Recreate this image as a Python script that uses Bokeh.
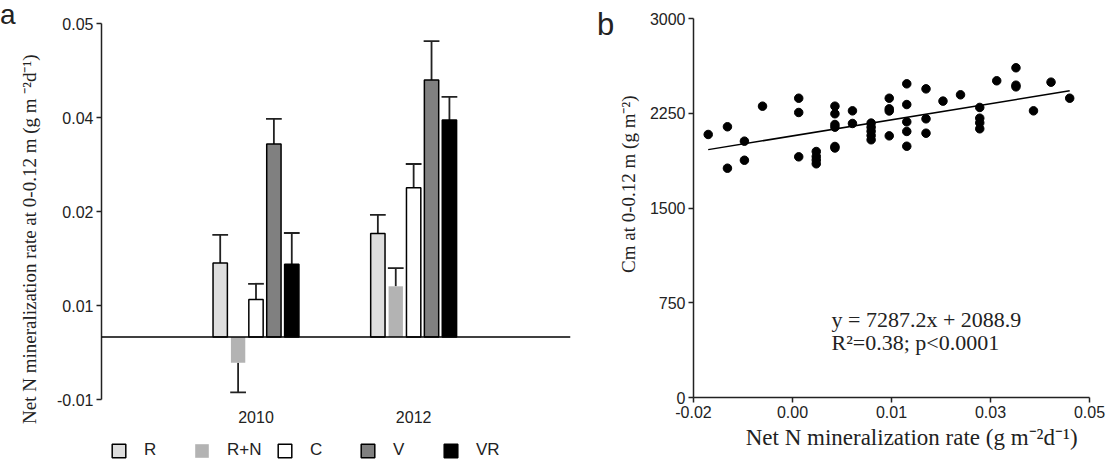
from bokeh.plotting import figure
from bokeh.layouts import row
from bokeh.models import Span, Label, Legend, LegendItem, FixedTicker, ColumnDataSource, Div
from bokeh.core.properties import value
from bokeh.embed import file_html
from bokeh.resources import INLINE

# ---------------- data: panel a ----------------
years = ["2010", "2012"]
treatments = ["R", "R+N", "C", "V", "VR"]
mean_R = [0.0118, 0.0165]
mean_RN = [-0.0041, 0.0081]
mean_C = [0.0060, 0.0238]
mean_V = [0.0308, 0.0410]
mean_VR = [0.0116, 0.0346]
err_R = [0.0045, 0.0030]
err_RN = [0.0047, 0.0029]
err_C = [0.0025, 0.0038]
err_V = [0.0040, 0.0062]
err_VR = [0.0050, 0.0037]
left_yticks = [-0.01, 0.005, 0.02, 0.035, 0.05]
left_ytick_labels = ["-0.01", "0.01", "0.02", "0.04", "0.05"]

# ---------------- data: panel b ----------------
nmin_rate = [-0.0174, -0.0140, -0.0140, -0.0110, -0.0110, -0.0078,
             -0.0014, -0.0014, -0.0014, 0.0017, 0.0017, 0.0017, 0.0017,
             0.0050, 0.0050, 0.0050, 0.0050, 0.0050, 0.0050,
             0.0081, 0.0081,
             0.0114, 0.0114, 0.0114, 0.0114, 0.0114,
             0.0146, 0.0146, 0.0146, 0.0146,
             0.0177, 0.0177, 0.0177, 0.0177, 0.0177,
             0.0211, 0.0211, 0.0211, 0.0241, 0.0272,
             0.0306, 0.0306, 0.0306, 0.0306,
             0.0336, 0.0370, 0.0370, 0.0370, 0.0401, 0.0432, 0.0465]
cm_stock = [2082, 2143, 1815, 2029, 1878, 2306,
            2369, 2256, 1905, 1947, 1908, 1850, 1880,
            2306, 2246, 2161, 2140, 1987, 1975,
            2269, 2169,
            2172, 2140, 2108, 2074, 2040,
            2369, 2285, 2268, 2071,
            2483, 2319, 2182, 2106, 1989,
            2443, 2206, 2092, 2346, 2396,
            2296, 2211, 2174, 2127,
            2507, 2610, 2472, 2459, 2269, 2496, 2369]
slope = 7287.2
intercept = 2088.9
right_xticks = [-0.02, -0.0025, 0.015, 0.0325, 0.05]
right_xtick_labels = ["-0.02", "0.00", "0.01", "0.03", "0.05"]
right_yticks = [0, 750, 1500, 2250, 3000]

SANS = "Liberation Sans"
SERIF = "Liberation Serif"
TXT = "#222222"
NB = "\u00a0"

# ---------------- panel letters ----------------
div_a = Div(text="a", width=16, height=40, margin=(1, 0, 0, 0),
            styles={"font-family": SANS, "font-size": "28px", "line-height": "28px", "color": TXT})
div_b = Div(text="b", width=17, height=44, margin=(9, 0, 0, 0),
            styles={"font-family": SANS, "font-size": "31px", "line-height": "31px", "color": TXT})

# ---------------- panel a ----------------
# frame extends to the bottom of the page; the y axis itself is bounded to [-0.01, 0.05]
pa = figure(width=581, height=464, output_backend="svg", toolbar_location=None,
            x_axis_location=None, frame_align=False,
            x_range=(0.02, 2.995), y_range=(-0.02031, 0.05),
            min_border_left=81, min_border_right=27, min_border_top=23, min_border_bottom=0)
pa.grid.visible = False
pa.outline_line_color = None

means = [mean_R, mean_RN, mean_C, mean_V, mean_VR]
errs = [err_R, err_RN, err_C, err_V, err_VR]
fills = ["#dedede", "#b3b3b3", "#ffffff", "#808080", "#000000"]
lines = ["black", None, "black", "black", "black"]
group_pos = [1, 2]
dodge = 0.1135
bar_w = 0.091
cap_half = 0.05

items = []
for i, (name, m, e, fc, lc) in enumerate(zip(treatments, means, errs, fills, lines)):
    xs = [g + (i - 2) * dodge for g in group_pos]
    tips = [v + er if v >= 0 else v - er for v, er in zip(m, e)]
    src = ColumnDataSource(dict(x=xs, top=m, tip=tips,
                                x0=[x - cap_half for x in xs], x1=[x + cap_half for x in xs]))
    pa.segment(x0="x", y0="top", x1="x", y1="tip", source=src, line_color="#222222", line_width=1.8)
    pa.segment(x0="x0", y0="tip", x1="x1", y1="tip", source=src, line_color="#222222", line_width=1.8)
    r = pa.vbar(x="x", top="top", bottom=0, width=bar_w, source=src, fill_color=fc,
                line_color=lc, line_width=1.5)
    items.append(LegendItem(label=name, renderers=[r]))

pa.add_layout(Span(location=0, dimension="width", line_color="black", line_width=1.5))

# category (year) labels under the bars
year_label_y = -0.01266
pa.text(x=group_pos, y=[year_label_y] * len(group_pos), text=years,
        text_align="center", text_baseline="middle", text_font=value(SANS),
        text_font_size="16px", text_color=TXT)

pa.yaxis.bounds = (-0.01, 0.05)
pa.yaxis.ticker = FixedTicker(ticks=left_yticks)
pa.yaxis.major_label_overrides = dict(zip(left_yticks, left_ytick_labels))
pa.yaxis.axis_label = NB * 2 + "Net N mineralization rate at 0-0.12 m (g m \u207b\u00b2d\u207b\u00b9)"
pa.yaxis.axis_label_text_font = SERIF
pa.yaxis.axis_label_text_font_style = "normal"
pa.yaxis.axis_label_text_font_size = "19px"
pa.yaxis.axis_label_text_color = TXT
pa.yaxis.axis_label_standoff = 14
pa.yaxis.major_label_text_font = SANS
pa.yaxis.major_label_text_font_size = "16px"
pa.yaxis.major_label_text_color = TXT
pa.yaxis.major_label_standoff = 3
pa.yaxis.major_tick_out = 5
pa.yaxis.major_tick_in = 0
pa.yaxis.minor_tick_line_color = None
pa.yaxis.axis_line_width = 1.5
pa.yaxis.major_tick_line_width = 1.5
pa.yaxis.axis_line_color = "#222222"
pa.yaxis.major_tick_line_color = "#222222"

legend = Legend(items=items, orientation="horizontal", location=(9, 4),
                glyph_width=17, glyph_height=17, label_standoff=17, label_width=39,
                spacing=10, padding=2, margin=0,
                label_text_font=SANS, label_text_font_size="17px", label_text_color=TXT,
                border_line_color=None, background_fill_alpha=0)
pa.add_layout(legend)

# ---------------- panel b ----------------
pb = figure(width=499, height=464, output_backend="svg", toolbar_location=None,
            frame_align=False,
            x_range=(-0.02, 0.05), y_range=(0, 3000),
            min_border_left=73, min_border_right=24, min_border_top=18, min_border_bottom=67)
pb.grid.visible = False
pb.outline_line_color = None

pb.scatter(nmin_rate, cm_stock, size=8.5, color="black")
x_lo, x_hi = min(nmin_rate), max(nmin_rate)
pb.line([x_lo, x_hi], [slope * x_lo + intercept, slope * x_hi + intercept],
        line_color="black", line_width=1.5)

pb.add_layout(Label(x=0.0044, y=621, text="y = 7287.2x + 2088.9", text_font=SERIF,
                    text_font_size="22px", text_color=TXT, text_baseline="middle"))
pb.add_layout(Label(x=0.0044, y=437, text="R\u00b2=0.38; p<0.0001", text_font=SERIF,
                    text_font_size="22px", text_color=TXT, text_baseline="middle"))

pb.xaxis.ticker = FixedTicker(ticks=right_xticks)
pb.xaxis.major_label_overrides = dict(zip(right_xticks, right_xtick_labels))
pb.yaxis.ticker = FixedTicker(ticks=right_yticks)
for ax in (pb.xaxis, pb.yaxis):
    ax.major_label_text_font = SANS
    ax.major_label_text_font_size = "16px"
    ax.major_label_text_color = TXT
    ax.major_label_standoff = 3
    ax.major_tick_out = 5
    ax.major_tick_in = 0
    ax.minor_tick_line_color = None
    ax.axis_line_width = 1.5
    ax.major_tick_line_width = 1.5
    ax.axis_line_color = "#222222"
    ax.major_tick_line_color = "#222222"
    ax.axis_label_text_font = SERIF
    ax.axis_label_text_font_style = "normal"
    ax.axis_label_text_color = TXT
pb.xaxis.axis_label = NB * 7 + "Net N mineralization rate (g m\u207b\u00b2d\u207b\u00b9)"
pb.xaxis.axis_label_text_font_size = "23px"
pb.xaxis.axis_label_standoff = 4
pb.yaxis.axis_label = NB * 11 + "Cm at 0-0.12  m (g m\u207b\u00b2)"
pb.yaxis.axis_label_text_font_size = "19px"
pb.yaxis.axis_label_standoff = 8

layout = row(div_a, pa, div_b, pb)
open("out.html", "w").write(file_html(layout, INLINE))
